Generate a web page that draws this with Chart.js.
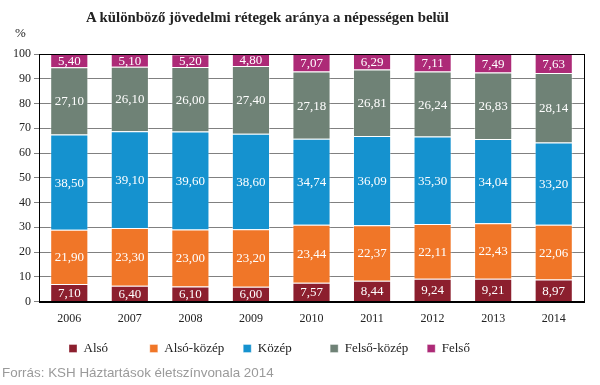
<!DOCTYPE html>
<html>
<head>
<meta charset="utf-8">
<script src="https://cdn.jsdelivr.net/npm/chart.js@4"></script>
<style>
    html, body { margin: 0; padding: 0; background: #fff; }
    .wrap { position: relative; width: 600px; height: 385px; }
    .title {
        position: absolute; left: 86px; top: 9px;
        font: bold 14.8px "Liberation Serif", serif; color: #222;
        white-space: nowrap;
    }
    .unit {
        position: absolute; left: 15px; top: 25px;
        font: 13px "Liberation Serif", serif; color: #222;
    }
    .source {
        position: absolute; left: 2px; top: 365px;
        font: 13.4px "Liberation Sans", Arial, sans-serif; color: #9a9a9a;
        white-space: nowrap;
    }
</style>
</head>
<body>
<div class="wrap">
    <canvas id="incomeChart" width="600" height="385"></canvas>
    <div class="title">A különböző jövedelmi rétegek aránya a népességen belül</div>
    <div class="unit">%</div>
    <div class="source">Forrás: KSH Háztartások életszínvonala 2014</div>
</div>
<script>
// Data
const years = ['2006', '2007', '2008', '2009', '2010', '2011', '2012', '2013', '2014'];
const also = [7.10, 6.40, 6.10, 6.00, 7.57, 8.44, 9.24, 9.21, 8.97];
const alsoKozep = [21.90, 23.30, 23.00, 23.20, 23.44, 22.37, 22.11, 22.43, 22.06];
const kozep = [38.50, 39.10, 39.60, 38.60, 34.74, 36.09, 35.30, 34.04, 33.20];
const felsoKozep = [27.10, 26.10, 26.00, 27.40, 27.18, 26.81, 26.24, 26.83, 28.14];
const felso = [5.40, 5.10, 5.20, 4.80, 7.07, 6.29, 7.11, 7.49, 7.63];
const yTicks = [0, 10, 20, 30, 40, 50, 60, 70, 80, 90, 100];

const serif = '"Liberation Serif", serif';

// extra trailing gap after some legend entries (the original spacing is uneven)
const legendGaps = [7, 0, 6, 0, 0];

// white value labels in the middle of each segment
const segmentLabels = {
    id: 'segmentLabels',
    afterDatasetsDraw(chart) {
        const ctx = chart.ctx;
        ctx.save();
        ctx.fillStyle = '#ffffff';
        ctx.font = '13px ' + serif;
        ctx.textAlign = 'center';
        ctx.textBaseline = 'middle';
        chart.data.datasets.forEach((ds, i) => {
            const meta = chart.getDatasetMeta(i);
            meta.data.forEach((bar, j) => {
                const y = (bar.y + bar.base) / 2;
                ctx.fillText(ds.data[j].toFixed(2).replace('.', ','), bar.x, y + 1);
            });
        });
        ctx.restore();
    }
};

// frame round the plot area + nudge the legend into place
const plotFrame = {
    id: 'plotFrame',
    afterLayout(chart) {
        const lg = chart.legend;
        lg.left += 40;
        lg.right += 40;
        lg.top -= 5;
        lg.bottom -= 5;
    },
    afterDraw(chart) {
        const a = chart.chartArea;
        const ctx = chart.ctx;
        ctx.save();
        ctx.strokeStyle = '#000';
        ctx.lineWidth = 1;
        ctx.strokeRect(Math.round(a.left) + 0.5, Math.round(a.top) + 0.5,
            Math.round(a.right - a.left), Math.round(a.bottom - a.top));
        ctx.restore();
    }
};

const makeSet = (label, data, color) => ({
    label: label,
    data: data,
    backgroundColor: color,
    borderColor: 'rgba(255, 255, 255, 0.35)',
    borderWidth: 1,
    barPercentage: 0.63,
    categoryPercentage: 1
});

new Chart(document.getElementById('incomeChart'), {
    type: 'bar',
    data: {
        labels: years,
        datasets: [
            makeSet('Alsó', also, '#8c1f2e'),
            makeSet('Alsó-közép', alsoKozep, '#f07628'),
            makeSet('Közép', kozep, '#1592cf'),
            makeSet('Felső-közép', felsoKozep, '#6f8276'),
            makeSet('Felső', felso, '#ad2a77')
        ]
    },
    options: {
        responsive: false,
        animation: false,
        layout: {
            padding: { left: 10, right: 16, top: 54, bottom: 15 }
        },
        plugins: {
            legend: {
                position: 'bottom',
                align: 'start',
                labels: {
                    boxWidth: 8,
                    boxHeight: 8,
                    padding: 19,
                    color: '#222',
                    font: { family: serif, size: 13 },
                    generateLabels: (chart) => {
                        const items = Chart.defaults.plugins.legend.labels.generateLabels(chart);
                        items.forEach((it, i) => { it.text = it.text + ' '.repeat(legendGaps[i]); });
                        return items;
                    }
                }
            },
            tooltip: { enabled: false }
        },
        scales: {
            x: {
                stacked: true,
                grid: { display: false },
                border: { color: '#000' },
                ticks: {
                    color: '#222',
                    padding: 2,
                    font: { family: serif, size: 12 }
                }
            },
            y: {
                stacked: true,
                min: 0,
                max: 100,
                afterBuildTicks: (axis) => {
                    axis.ticks = yTicks.map(v => ({ value: v }));
                },
                grid: {
                    color: '#808080',
                    tickLength: 5
                },
                border: { color: '#000' },
                ticks: {
                    color: '#222',
                    padding: 3,
                    font: { family: serif, size: 12 }
                }
            }
        }
    },
    plugins: [segmentLabels, plotFrame]
});
</script>
</body>
</html>
